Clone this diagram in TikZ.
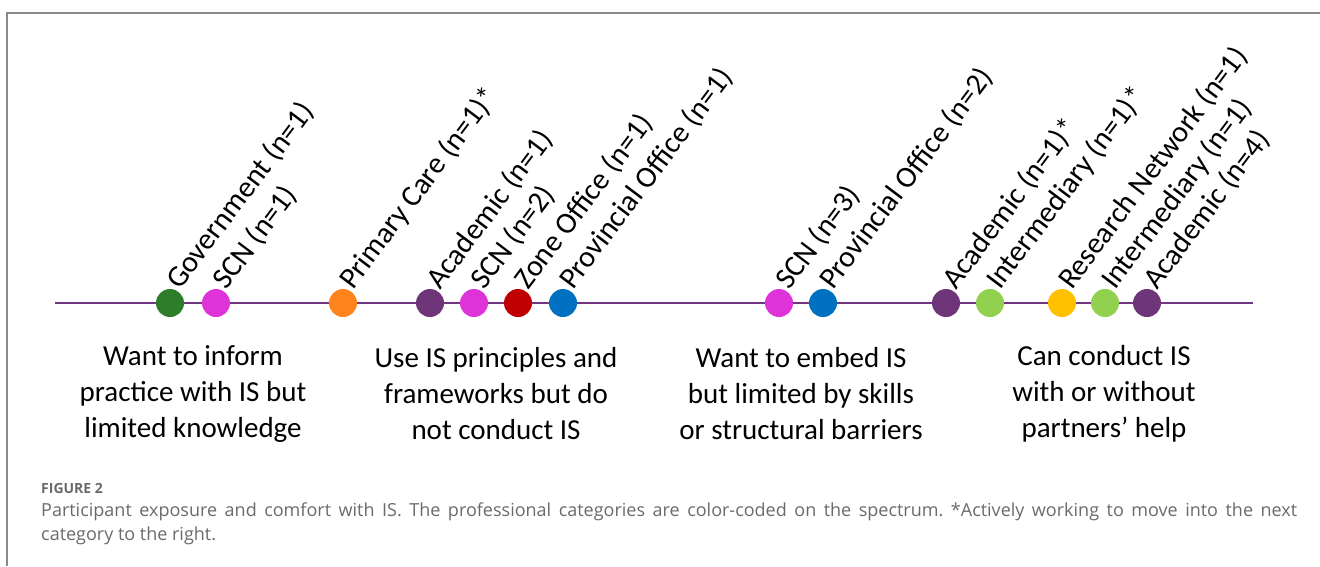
\documentclass[tikz,border=0pt]{standalone}
\usepackage{fontspec}
\setmainfont{Carlito}
\newfontfamily\capfont{Open Sans}
\frenchspacing
\definecolor{govgreen}{HTML}{2E7D2A}
\definecolor{scnpink}{HTML}{DE33D9}
\definecolor{pcorange}{HTML}{FF841E}
\definecolor{acadpurple}{HTML}{6E3679}
\definecolor{zonered}{HTML}{C00000}
\definecolor{provblue}{HTML}{0070C0}
\definecolor{intgreen}{HTML}{92D050}
\definecolor{resyellow}{HTML}{FFC000}
\definecolor{axispurple}{HTML}{70367F}
\definecolor{framegray}{HTML}{8A8A8A}
\definecolor{capgray}{HTML}{6A6A6A}
\begin{document}
\begin{tikzpicture}[x=1pt,y=-1pt,
  dot/.style={circle,inner sep=0pt,minimum size=28pt},
  tag/.style={rotate=53,anchor=base west,inner sep=0pt,font=\fontsize{30}{36}\selectfont},
  stage/.style={align=center,inner sep=0pt,font=\fontsize{29}{36}\selectfont},
  framerule/.style={draw=framegray,line width=1.3pt},
  axisline/.style={draw=axispurple,line width=1.6pt}]
\useasboundingbox (0,0) rectangle (1320,566);

% panel frame (top and left edges)
\draw[framerule] (1320,13) -- (7,13) -- (7,566);

% spectrum axis
\coordinate (axisL) at (55,303);
\coordinate (axisR) at (1253,303);
\draw[axisline] (axisL) -- (axisR);

% participants along the spectrum
\foreach \i/\x/\c/\t in {
  1/170/govgreen/Government (n=1),
  2/216/scnpink/SCN (n=1),
  3/343/pcorange/Primary Care (n=1)*,
  4/430/acadpurple/Academic (n=1),
  5/474/scnpink/SCN (n=2),
  6/518/zonered/Zone Office (n=1),
  7/563/provblue/Provincial Office (n=1),
  8/779/scnpink/SCN (n=3),
  9/823/provblue/Provincial Office (n=2),
  10/946/acadpurple/Academic (n=1)*,
  11/990/intgreen/Intermediary (n=1)*,
  12/1062/resyellow/Research Network (n=1),
  13/1105/intgreen/Intermediary (n=1),
  14/1147/acadpurple/Academic (n=4)}{
  \node[dot,fill=\c] (d\i) at (\x,303) {};
  \node[tag] (t\i) at ([xshift=10pt,yshift=12pt]d\i.center) {\t};
}

% stage descriptions
\node[stage] (s1) at (193,394) {Want to inform\\practice with IS but\\limited knowledge};
\node[stage] (s2) at (496,394) {Use IS principles and\\frameworks but do\\not conduct IS};
\node[stage] (s3) at (801,394) {Want to embed IS\\but limited by skills\\or structural barriers};
\node[stage] (s4) at (1104,394) {Can conduct IS\\with or without\\partners’ help};

% caption
\node[anchor=west,inner sep=0pt,text=capgray,font=\capfont\bfseries\fontsize{14}{16}\selectfont] (fig) at (41,488) {FIGURE 2};
\node[anchor=north west,inner sep=0pt,text width=1256pt,align=justify,text=capgray,
      font=\capfont\fontsize{18}{24}\selectfont] (cap) at (41,503)
  {Participant exposure and comfort with IS. The professional categories are color-coded on the spectrum. *Actively working to move into the next\linebreak category to the right.};
\end{tikzpicture}
\end{document}
